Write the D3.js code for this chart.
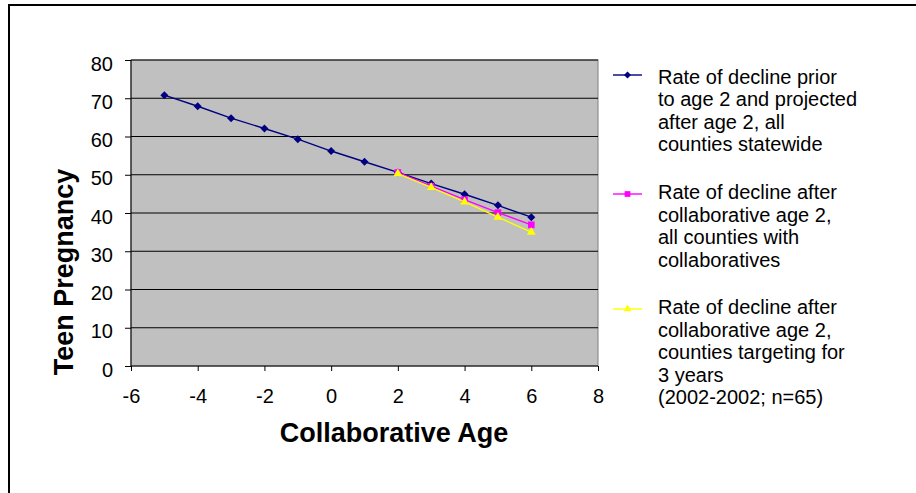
<!DOCTYPE html>
<html>
<head>
<meta charset="utf-8">
<script src="https://d3js.org/d3.v7.min.js"></script>
<style>
  body { margin: 0; background: #fff; }
  svg { display: block; font-family: Arial, "Liberation Sans", sans-serif; }
</style>
</head>
<body>
<div id="chart"></div>
<script>
(function () {

  // collaborative age on the x axis
  const agesStatewide = [-5, -4, -3, -2, -1, 0, 1, 2, 3, 4, 5, 6]
  const ratesStatewide = [70.8, 67.9, 64.8, 62.1, 59.3, 56.2, 53.4, 50.6, 47.7, 44.9, 42.0, 38.9]

  const agesAfter = [2, 3, 4, 5, 6]
  const ratesCollaboratives = [50.6, 47.0, 43.5, 40.1, 36.9]
  const ratesTargeting = [50.3, 46.7, 42.9, 38.9, 35.0]

  const xTicks = [-6, -4, -2, 0, 2, 4, 6, 8]
  const yTicks = [0, 10, 20, 30, 40, 50, 60, 70, 80]

  const legendLabels = [
    ['Rate of decline prior', 'to age 2 and projected', 'after age 2, all', 'counties statewide'],
    ['Rate of decline after', 'collaborative age 2,', 'all counties with', 'collaboratives'],
    ['Rate of decline after', 'collaborative age 2,', 'counties targeting for', '3 years', '(2002-2002; n=65)']
  ]

  const margin = { top: 60, left: 131 }
  const width = 598 - 131
  const height = 366 - 60

  const svg = d3.select("#chart").append("svg")
      .attr("width", 916)
      .attr("height", 493)

  // outer frame, runs off the right and bottom edges
  svg.append("rect")
    .attr("x", 9)
    .attr("y", 5)
    .attr("width", 1000)
    .attr("height", 1000)
    .attr("fill", "none")
    .attr("stroke", "#000")
    .attr("stroke-width", 2)

  const g = svg.append("g")
      .attr("transform", "translate(" + margin.left + "," + margin.top + ")")

  const xPositionScale = d3.scaleLinear()
    .domain([-6, 8])
    .range([0, width])

  const yPositionScale = d3.scaleLinear()
    .domain([0, 80])
    .range([height, 0])

  g.append("rect")
    .attr("width", width)
    .attr("height", height)
    .attr("fill", "#c0c0c0")
    .attr("stroke", "#808080")

  // gridlines
  g.selectAll(".grid")
    .data(yTicks.filter(d => d > 0))
    .join("line")
    .attr("class", "grid")
    .attr("x1", 0)
    .attr("x2", width)
    .attr("y1", d => yPositionScale(d))
    .attr("y2", d => yPositionScale(d))
    .attr("stroke", "#000")

  const yAxis = d3.axisLeft(yPositionScale)
    .tickValues(yTicks)
    .tickFormat(d => String(d))
    .tickSize(6)
    .tickPadding(12)
  g.append("g")
    .attr("class", "axis y-axis")
    .call(yAxis)
    .call(a => a.select(".domain").remove())
    .call(a => a.selectAll("text")
      .attr("dy", "0.51em")
      .attr("font-size", 20)
      .attr("font-family", "Arial, 'Liberation Sans', sans-serif"))

  g.append("line")
    .attr("x1", 0).attr("x2", 0)
    .attr("y1", 0).attr("y2", height)
    .attr("stroke", "#000")

  const xAxis = d3.axisBottom(xPositionScale)
    .tickValues(xTicks)
    .tickFormat(d => String(d))
    .tickSize(5)
    .tickPadding(18)
  g.append("g")
    .attr("class", "axis x-axis")
    .attr("transform", "translate(0," + height + ")")
    .call(xAxis)
    .call(a => a.select(".domain").remove())
    .call(a => a.selectAll("text")
      .attr("font-size", 20)
      .attr("font-family", "Arial, 'Liberation Sans', sans-serif"))

  g.append("line")
    .attr("x1", 0).attr("x2", width)
    .attr("y1", height).attr("y2", height)
    .attr("stroke", "#000")

  // axis titles
  svg.append("text")
    .attr("x", 394)
    .attr("y", 433)
    .attr("dy", "0.35em")
    .attr("text-anchor", "middle")
    .attr("font-size", 27)
    .attr("font-weight", "bold")
    .text("Collaborative Age")

  svg.append("text")
    .attr("transform", "translate(64,272) rotate(-90)")
    .attr("dy", "0.35em")
    .attr("text-anchor", "middle")
    .attr("font-size", 27)
    .attr("font-weight", "bold")
    .text("Teen Pregnancy")

  const diamond = d3.symbol().type(d3.symbolSquare)

  const series = [
    { xs: agesStatewide, ys: ratesStatewide, color: "#000080", symbol: d3.symbolSquare, size: 32, rotate: 45 },
    { xs: agesAfter, ys: ratesCollaboratives, color: "#ff00ff", symbol: d3.symbolSquare, size: 44, rotate: 0 },
    { xs: agesAfter, ys: ratesTargeting, color: "#ffff00", symbol: d3.symbolTriangle, size: 34, rotate: 0 }
  ]

  const line = d3.line()
    .x(d => xPositionScale(d[0]))
    .y(d => yPositionScale(d[1]))

  series.forEach(s => {
    const points = s.xs.map((x, i) => [x, s.ys[i]])
    g.append("path")
      .datum(points)
      .attr("d", line)
      .attr("fill", "none")
      .attr("stroke", s.color)
      .attr("stroke-width", 1.4)

    g.selectAll(null)
      .data(points)
      .join("path")
      .attr("d", d3.symbol().type(s.symbol).size(s.size))
      .attr("transform", d => "translate(" + xPositionScale(d[0]) + "," + yPositionScale(d[1]) + ") rotate(" + s.rotate + ")")
      .attr("fill", s.color)
  })

  // legend
  const legendTop = [76.5, 192, 307]
  const legendMarkY = [75, 194, 309]
  const legend = svg.append("g")

  series.forEach((s, i) => {
    legend.append("line")
      .attr("x1", 613).attr("x2", 642)
      .attr("y1", legendMarkY[i]).attr("y2", legendMarkY[i])
      .attr("stroke", s.color)
      .attr("stroke-width", 1.4)
    legend.append("path")
      .attr("d", d3.symbol().type(s.symbol).size(s.size * 0.75))
      .attr("transform", "translate(627.5," + legendMarkY[i] + ") rotate(" + s.rotate + ")")
      .attr("fill", s.color)

    legend.selectAll(null)
      .data(legendLabels[i])
      .join("text")
      .attr("x", 658)
      .attr("y", (d, j) => legendTop[i] + j * 22.6)
      .attr("dy", "0.35em")
      .attr("font-size", 20)
      .text(d => d)
  })

})();
</script>
</body>
</html>
